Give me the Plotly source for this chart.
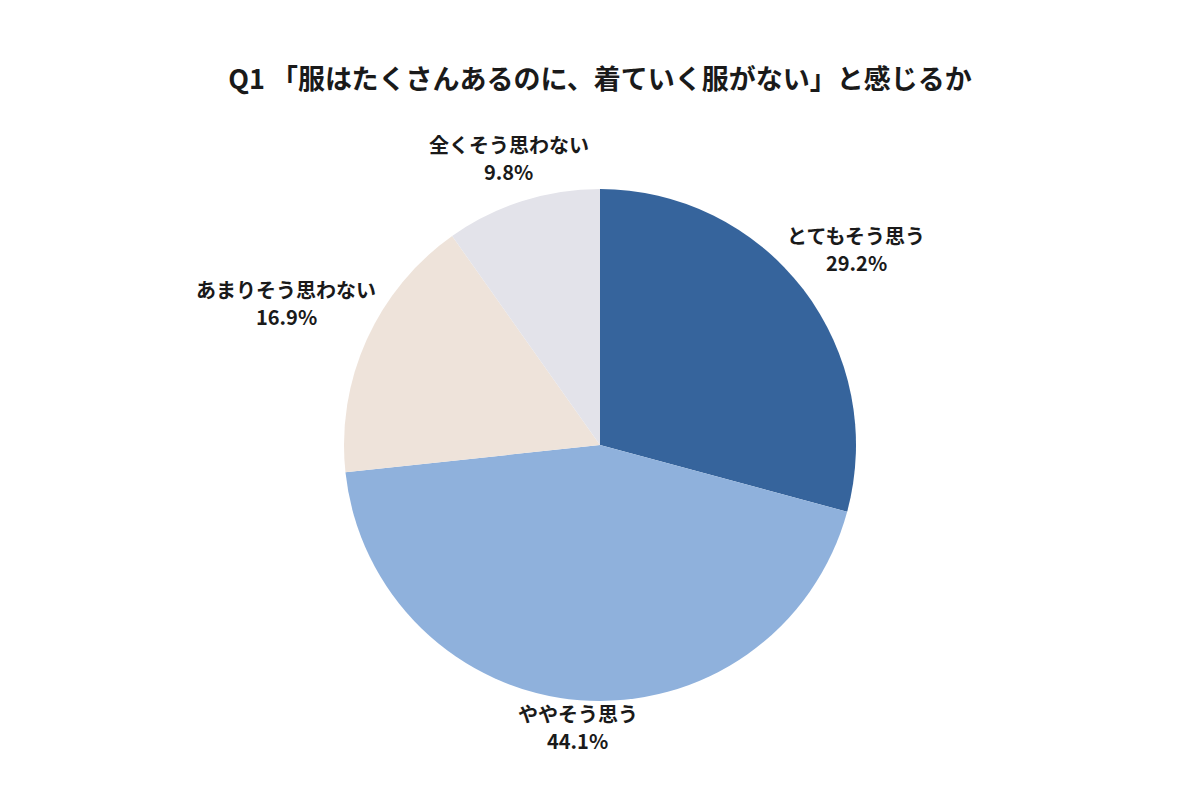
import math
import plotly.graph_objects as go

labels = ["とてもそう思う", "ややそう思う", "あまりそう思わない", "全くそう思わない"]
values = [29.2, 44.1, 16.9, 9.8]
colors = ["#36649C", "#8FB1DC", "#EEE3DA", "#E3E3EA"]

title = "Q1 「服はたくさんあるのに、着ていく服がない」と感じるか"

W, H = 1200, 800
# pie placement (paper coords) and radius in px
dom_x = [0.28, 0.70667]
dom_y = [0.13375, 0.77375]
R = 256
label_size = 20
line_gap = 27  # px between the two label lines

fig = go.Figure(
    go.Pie(
        labels=labels,
        values=values,
        sort=False,
        direction="clockwise",
        rotation=0,
        marker=dict(colors=colors, line=dict(width=0)),
        textinfo="none",
        hoverinfo="label+percent",
        showlegend=False,
        domain=dict(x=dom_x, y=dom_y),
    )
)

# outside labels, placed Excel-style along the middle of each slice
cx = sum(dom_x) / 2
cy = sum(dom_y) / 2
total = sum(values)
cum = 0
for lab, val in zip(labels, values):
    mid = (cum + val / 2) / total * 2 * math.pi
    cum += val
    s, c = math.sin(mid), math.cos(mid)
    w = len(lab) * label_size
    h = 2.7 * label_size
    d = R - 5 + abs(s) * w / 2 + abs(c) * h / 2
    x = cx + d * s / W
    y = cy + d * c / H
    for txt, off in [(lab, line_gap / 2), (f"{val:.1f}%", -line_gap / 2)]:
        fig.add_annotation(
            x=x,
            y=y + off / H,
            xref="paper",
            yref="paper",
            xanchor="center",
            yanchor="middle",
            showarrow=False,
            text=f"<b>{txt}</b>",
            font=dict(size=label_size, color="#1a1a1a", family="Noto Sans CJK JP"),
        )

fig.update_layout(
    width=W,
    height=H,
    margin=dict(l=0, r=0, t=0, b=0),
    paper_bgcolor="white",
    title=dict(
        text=f"<b>{title}</b>",
        x=0.4933,
        xanchor="center",
        y=0.91,
        yanchor="middle",
        font=dict(size=27, color="#1a1a1a", family="Noto Sans CJK JP"),
    ),
    font=dict(family="Noto Sans CJK JP"),
)

fig.write_html("out.html")
